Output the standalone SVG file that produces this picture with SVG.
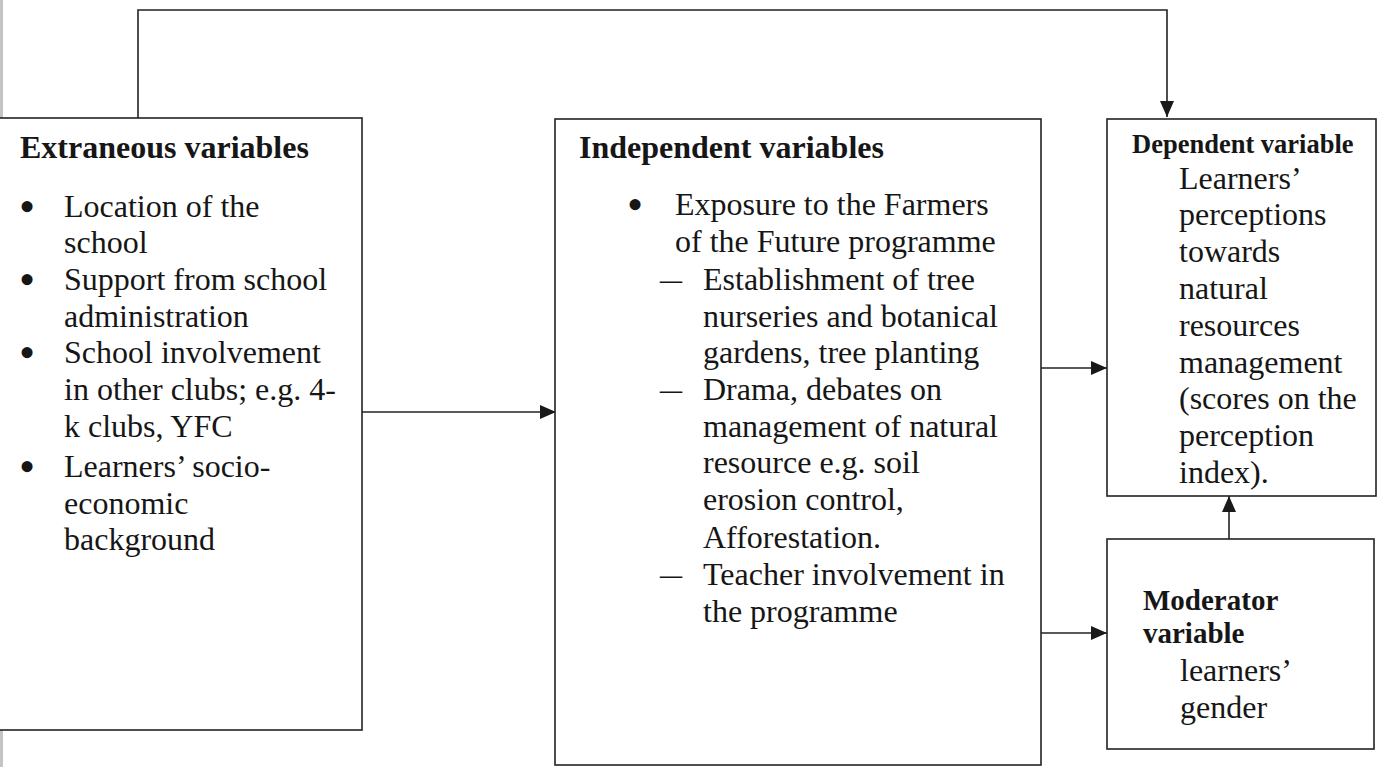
<svg xmlns="http://www.w3.org/2000/svg" width="1380" height="767" viewBox="0 0 1380 767">
  <style>
    .box { fill: #ffffff; stroke: #222222; stroke-width: 1.6; }
    .edge { fill: none; stroke: #222222; stroke-width: 1.6; }
    .txt { font-family: "Liberation Serif", "Times New Roman", serif; font-size: 32px; fill: #161616; }
    .bullet { font-family: "Liberation Serif", "Times New Roman", serif; font-size: 46px; fill: #161616; }
    .dash { font-family: "Liberation Serif", "Times New Roman", serif; font-size: 32px; fill: #161616; }
    .head { font-family: "Liberation Serif", "Times New Roman", serif; font-weight: bold; fill: #161616; }
  </style>
  <defs>
    <marker id="arrow" markerUnits="userSpaceOnUse" markerWidth="17" markerHeight="15" refX="16" refY="7" orient="auto">
      <path d="M0,0 L16,7 L0,14 z" fill="#1a1a1a"/>
    </marker>
  </defs>

  <rect x="0" y="0" width="1380" height="767" fill="#ffffff"/>
  <!-- shaded left margin -->
  <rect x="0" y="0" width="3" height="767" fill="#c4c4c4"/>

  <!-- connectors -->
  <g id="connectors">
    <path class="edge" d="M138,118 V10 H1167 V117" marker-end="url(#arrow)"/>
    <path class="edge" d="M362,412 H556" marker-end="url(#arrow)"/>
    <path class="edge" d="M1041,368 H1107" marker-end="url(#arrow)"/>
    <path class="edge" d="M1035,633 H1107" marker-end="url(#arrow)"/>
    <path class="edge" d="M1229,539 V496" marker-end="url(#arrow)"/>
  </g>

  <!-- extraneous variables -->
  <g id="extraneous">
    <rect class="box" x="-5" y="118" width="367" height="612"/>
    <text class="head" x="20" y="158" font-size="32">Extraneous variables</text>
    <g class="bullet">
      <text x="19" y="222">•</text>
      <text x="19" y="295">•</text>
      <text x="19" y="368">•</text>
      <text x="19" y="482">•</text>
    </g>
    <g class="txt">
      <text x="64" y="217">Location of the</text>
      <text x="64" y="253">school</text>
      <text x="64" y="290">Support from school</text>
      <text x="64" y="327">administration</text>
      <text x="64" y="363">School involvement</text>
      <text x="64" y="400">in other clubs; e.g. 4-</text>
      <text x="64" y="437">k clubs, YFC</text>
      <text x="64" y="477">Learners’ socio-</text>
      <text x="64" y="514">economic</text>
      <text x="64" y="550">background</text>
    </g>
  </g>

  <!-- independent variables -->
  <g id="independent">
    <rect class="box" x="555" y="119" width="486" height="646"/>
    <text class="head" x="579" y="158" font-size="32">Independent variables</text>
    <text class="bullet" x="627" y="220">•</text>
    <g class="dash">
      <text x="660" y="290" textLength="22" lengthAdjust="spacingAndGlyphs">–</text>
      <text x="660" y="400" textLength="22" lengthAdjust="spacingAndGlyphs">–</text>
      <text x="660" y="585" textLength="22" lengthAdjust="spacingAndGlyphs">–</text>
    </g>
    <g class="txt">
      <text x="675" y="215">Exposure to the Farmers</text>
      <text x="675" y="252">of the Future programme</text>
      <text x="703" y="290">Establishment of tree</text>
      <text x="703" y="327">nurseries and botanical</text>
      <text x="703" y="363">gardens, tree planting</text>
      <text x="703" y="400">Drama, debates on</text>
      <text x="703" y="437">management of natural</text>
      <text x="703" y="473">resource e.g. soil</text>
      <text x="703" y="510">erosion control,</text>
      <text x="703" y="548">Afforestation.</text>
      <text x="703" y="585">Teacher involvement in</text>
      <text x="703" y="622">the programme</text>
    </g>
  </g>

  <!-- dependent variable -->
  <g id="dependent">
    <rect class="box" x="1107" y="119" width="269" height="377"/>
    <text class="head" x="1132" y="153" font-size="26.5">Dependent variable</text>
    <g class="txt">
      <text x="1179" y="189">Learners’</text>
      <text x="1179" y="225">perceptions</text>
      <text x="1179" y="262">towards</text>
      <text x="1179" y="299">natural</text>
      <text x="1179" y="336">resources</text>
      <text x="1179" y="373">management</text>
      <text x="1179" y="409">(scores on the</text>
      <text x="1179" y="446">perception</text>
      <text x="1179" y="483">index).</text>
    </g>
  </g>

  <!-- moderator variable -->
  <g id="moderator">
    <rect class="box" x="1107" y="539" width="267" height="210"/>
    <text class="head" x="1143" y="610" font-size="29">Moderator</text>
    <text class="head" x="1143" y="643" font-size="29">variable</text>
    <g class="txt">
      <text x="1180" y="681">learners’</text>
      <text x="1180" y="718">gender</text>
    </g>
  </g>
</svg>
